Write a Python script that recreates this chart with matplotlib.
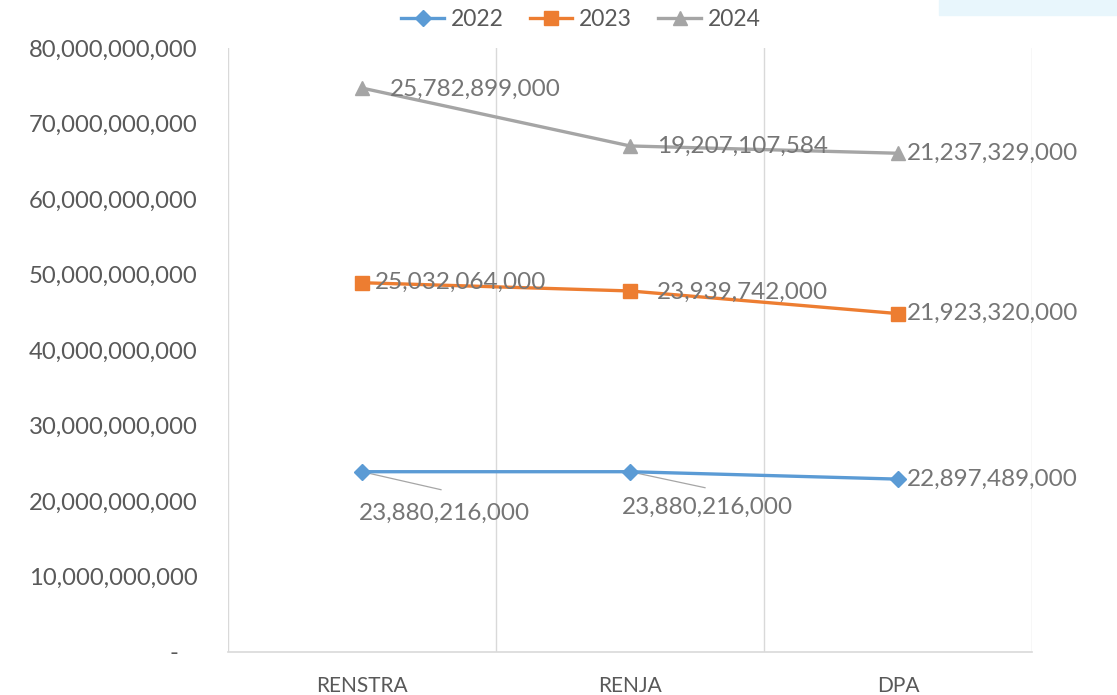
import matplotlib
matplotlib.use("Agg")
import matplotlib.pyplot as plt
from matplotlib.patches import Rectangle
from matplotlib.ticker import FuncFormatter
import numpy as np

categories = ["RENSTRA", "RENJA", "DPA"]
series_names = ["2022", "2023", "2024"]
v2022 = [23880216000, 23880216000, 22897489000]
v2023 = [25032064000, 23939742000, 21923320000]
v2024 = [25782899000, 19207107584, 21237329000]
y_ticks = [0, 10e9, 20e9, 30e9, 40e9, 50e9, 60e9, 70e9, 80e9]

colors = ["#5B9BD5", "#ED7D31", "#A5A5A5"]
markers = ["D", "s", "^"]
msizes = [8, 10, 10]

plt.rcParams['font.family'] = ['Lato', 'DejaVu Sans']

fig = plt.figure(figsize=(11.17, 6.95), dpi=100)
fig.patches.append(Rectangle((939/1117, 1-15/695), 178/1117, 15/695,
                             transform=fig.transFigure, color="#E8F6FC", zorder=0))
ax = fig.add_axes([228/1117, 1-652/695, (1032-228)/1117, (652-48)/695])

x = np.arange(len(categories))
data = [np.array(v2022, float), np.array(v2023, float), np.array(v2024, float)]
cum = np.cumsum(np.vstack(data), axis=0)

lines = []
for i in range(3):
    l, = ax.plot(x, cum[i], color=colors[i], lw=2.4, marker=markers[i],
                 markersize=msizes[i], label=series_names[i], zorder=3)
    lines.append(l)

ax.set_xlim(-0.5, 2.5)
ax.set_ylim(0, 80e9)
ax.set_yticks(y_ticks)
ax.yaxis.set_major_formatter(FuncFormatter(lambda v, p: "-   " if v == 0 else f"{v:,.0f}"))
ax.set_xticks(x)
ax.set_xticklabels(categories)
for lab in ax.get_xticklabels():
    lab.set_fontsize(15)
    lab.set_color("#595959")
for lab in ax.get_yticklabels():
    lab.set_fontsize(17.2)
    lab.set_color("#595959")
ax.tick_params(axis='both', length=0)
ax.tick_params(axis='y', pad=22)
ax.tick_params(axis='x', pad=17)

for gx in [-0.5, 0.5, 1.5, 2.5]:
    ax.axvline(gx, color="#D9D9D9", lw=1, zorder=1)
for s in ["top", "right", "left"]:
    ax.spines[s].set_visible(False)
ax.spines["bottom"].set_color("#D9D9D9")
ax.spines["bottom"].set_linewidth(1.2)

lab_kw = dict(fontsize=17.5, color="#757575", textcoords="offset pixels", va="center", zorder=4)

# 2022 labels
ax.annotate(f"{v2022[0]:,.0f}", (x[0], cum[0][0]), xytext=(-3, -42), ha="left", **lab_kw)
ax.annotate(f"{v2022[1]:,.0f}", (x[1], cum[0][1]), xytext=(-8, -36), ha="left", **lab_kw)
ax.annotate(f"{v2022[2]:,.0f}", (x[2], cum[0][2]), xytext=(9, 0), ha="left", **lab_kw)
ax.plot([x[0], x[0] + 79/268], [cum[0][0], cum[0][0] - 18/7.55*1e9], color="#A6A6A6", lw=0.9, zorder=2)
ax.plot([x[1], x[1] + 75/268], [cum[0][1], cum[0][1] - 16/7.55*1e9], color="#A6A6A6", lw=0.9, zorder=2)

# 2023 labels
ax.annotate(f"{v2023[0]:,.0f}", (x[0], cum[1][0]), xytext=(13, 0), ha="left", **lab_kw)
ax.annotate(f"{v2023[1]:,.0f}", (x[1], cum[1][1]), xytext=(27, -1), ha="left", **lab_kw)
ax.annotate(f"{v2023[2]:,.0f}", (x[2], cum[1][2]), xytext=(9, 0), ha="left", **lab_kw)

# 2024 labels
ax.annotate(f"{v2024[0]:,.0f}", (x[0], cum[2][0]), xytext=(28, -1), ha="left", **lab_kw)
ax.annotate(f"{v2024[1]:,.0f}", (x[1], cum[2][1]), xytext=(27, 0), ha="left", **lab_kw)
ax.annotate(f"{v2024[2]:,.0f}", (x[2], cum[2][2]), xytext=(9, 0), ha="left", **lab_kw)

leg = fig.legend(handles=lines, loc="center", bbox_to_anchor=(581/1117, 1-20/695), ncol=3,
                 frameon=False, fontsize=16.5, handlelength=1.85, columnspacing=1.15,
                 handletextpad=0.3)
for t in leg.get_texts():
    t.set_color("#595959")

fig.savefig("out.png", dpi=100)
